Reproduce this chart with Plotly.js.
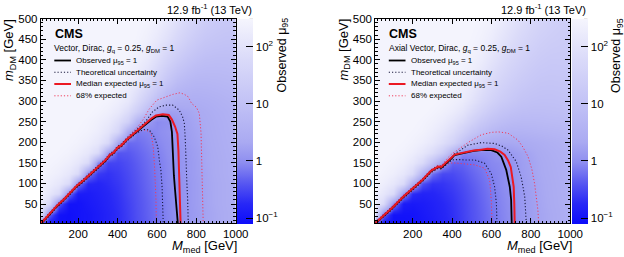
<!DOCTYPE html>
<html><head><meta charset="utf-8">
<script src="https://cdn.plot.ly/plotly-3.0.1.min.js"></script>
<style>html,body{margin:0;padding:0;background:#fff}#chart{width:624px;height:257px}</style>
</head><body><div id="chart"></div>
<script>
// ---------------- data ----------------
const Mmed = [10,50,100,150,200,250,300,350,400,450,500,550,600,650,700,750,800,850,900,950,1000];
const mDM  = [1,25,50,75,100,125,150,175,200,225,250,275,300,350,400,450,500];

// observed mu_95, vector mediator (rows = mDM, cols = Mmed)
const muVector = [
 [0.12,0.10,0.09,0.09,0.10,0.11,0.13,0.16,0.20,0.26,0.35,0.45,0.60,0.80,0.98,1.2,1.5,1.8,2.1,2.5,3.0],
 [60,0.5,0.10,0.09,0.10,0.11,0.13,0.16,0.20,0.27,0.36,0.47,0.62,0.82,1.0,1.22,1.5,1.8,2.1,2.5,3.0],
 [150,60,0.4,0.10,0.10,0.12,0.14,0.17,0.21,0.28,0.37,0.48,0.63,0.83,1.0,1.25,1.55,1.85,2.2,2.6,3.0],
 [220,130,60,0.6,0.13,0.13,0.15,0.18,0.22,0.30,0.38,0.50,0.65,0.85,1.02,1.25,1.55,1.85,2.2,2.6,3.0],
 [260,200,130,60,0.7,0.18,0.17,0.20,0.24,0.31,0.40,0.52,0.67,0.87,1.02,1.25,1.55,1.9,2.2,2.6,3.0],
 [290,250,200,130,60,0.8,0.25,0.22,0.26,0.33,0.42,0.54,0.70,0.88,1.05,1.3,1.6,1.9,2.3,2.7,3.1],
 [300,280,250,200,130,60,0.9,0.30,0.30,0.36,0.45,0.57,0.72,0.90,1.08,1.3,1.6,2.0,2.3,2.7,3.2],
 [300,300,280,250,200,130,60,1.5,0.40,0.42,0.50,0.62,0.77,0.95,1.12,1.35,1.65,2.0,2.4,2.8,3.3],
 [300,300,300,280,250,200,130,55,2,0.55,0.58,0.70,0.85,1.0,1.2,1.45,1.75,2.1,2.5,2.9,3.4],
 [300,300,300,300,280,250,190,110,45,2.5,0.75,0.80,0.92,1.1,1.3,1.55,1.85,2.2,2.6,3.0,3.5],
 [300,300,300,300,300,270,220,160,80,30,4,1.5,0.9,1.0,1.4,1.65,2.0,2.3,2.7,3.1,3.6],
 [300,300,300,300,300,300,270,220,150,70,25,8,2.5,1.6,1.7,1.9,2.2,2.5,2.9,3.3,3.8],
 [300,300,300,300,300,300,300,270,210,140,60,22,8,4,3,2.8,2.9,3.1,3.4,3.8,4.2],
 [300,300,300,300,300,300,300,300,280,220,150,80,35,15,8,6,5,5,5.2,5.5,6],
 [300,300,300,300,300,300,300,300,300,280,220,150,80,40,22,14,10,8.5,8,8,8.5],
 [300,300,300,300,300,300,300,300,300,300,280,220,150,90,50,30,20,15,13,12,12],
 [300,300,300,300,300,300,300,300,300,300,300,280,220,150,90,55,35,25,20,17,16]
];

// observed mu_95, axial-vector mediator
const muAxial = [
 [0.12,0.10,0.09,0.09,0.10,0.11,0.13,0.16,0.20,0.27,0.36,0.47,0.62,0.80,0.98,1.25,1.55,1.9,2.2,2.6,3.1],
 [60,0.5,0.10,0.10,0.10,0.12,0.14,0.17,0.21,0.28,0.37,0.48,0.63,0.82,1.0,1.27,1.57,1.9,2.2,2.6,3.1],
 [150,60,0.9,0.13,0.12,0.13,0.15,0.18,0.22,0.29,0.38,0.50,0.66,0.85,1.02,1.3,1.6,1.95,2.3,2.7,3.2],
 [220,130,60,1.2,0.20,0.16,0.17,0.20,0.24,0.31,0.40,0.53,0.69,0.88,1.05,1.33,1.65,2.0,2.35,2.75,3.2],
 [260,200,130,60,3,0.35,0.22,0.23,0.27,0.34,0.44,0.57,0.74,0.93,1.1,1.4,1.7,2.05,2.4,2.8,3.3],
 [290,250,200,130,60,4,0.6,0.32,0.33,0.40,0.50,0.63,0.80,0.92,1.1,1.5,1.8,2.15,2.5,2.9,3.4],
 [300,280,250,200,130,60,10,1.5,0.5,0.5,0.6,0.72,0.88,0.95,1.15,1.55,1.85,2.2,2.6,3.0,3.5],
 [300,300,280,250,200,130,70,25,4,0.9,0.85,0.9,0.95,1.2,1.4,1.7,2.0,2.4,2.8,3.2,3.7],
 [300,300,300,280,250,200,140,80,40,12,5,3,2.2,2.0,2.1,2.3,2.6,2.9,3.3,3.7,4.2],
 [300,300,300,300,280,250,190,130,75,35,16,9,6,4.5,4,4,4.2,4.5,4.8,5.1,5.5],
 [300,300,300,300,300,270,230,180,120,70,35,18,11,8,6.5,6,6,6.2,6.5,6.8,7.2],
 [300,300,300,300,300,300,270,230,180,120,65,35,20,13,10,8.5,8,8,8.3,8.6,9],
 [300,300,300,300,300,300,300,270,230,180,110,60,35,22,16,12,10.5,10,10,10.5,11],
 [300,300,300,300,300,300,300,300,280,240,180,110,65,40,27,20,16,14,13.5,14,14],
 [300,300,300,300,300,300,300,300,300,280,240,180,110,70,45,32,24,20,18,18,18],
 [300,300,300,300,300,300,300,300,300,300,280,240,180,115,75,50,36,28,24,22,21],
 [300,300,300,300,300,300,300,300,300,300,300,280,240,170,110,75,52,40,32,27,25]
];

// contours (Mmed, mDM) -- vector
const obsV_M = [10,30,60,90,130,190,230,275,300,320,340,360,380,400,420,445,470,495,520,545,570,595,625,654,668,676,679,682,686,692,698,706];
const obsV_m = [3,12,28,44,62,92,108,128,137,146,156,168,174,186,192,205,215,225,236,246,254,262,264,262,250,225,190,150,120,84,43,3];
const expV_M = [10,30,60,90,130,190,230,275,300,320,340,360,380,400,420,445,470,495,520,545,570,595,630,660,676,692,704,709,712,715,718,720];
const expV_m = [4,13,29,45,63,93,109,129,138,147,157,169,175,187,193,206,216,226,237,248,257,265,268,266,255,238,220,180,140,80,35,3];
const theoUpV_M = [10,30,60,90,130,190,230,275,300,320,340,360,380,400,420,445,470,495,520,545,578,612,645,680,713,730,739,744,747,752,756,759];
const theoUpV_m = [6,15,31,47,65,95,112,132,141,150,160,172,178,190,196,209,219,229,240,252,274,286,290,290,278,262,246,205,140,100,60,3];
const theoDnV_M = [10,30,60,90,130,190,230,275,300,320,340,360,380,400,420,445,470,495,531,561,586,604,612,620,626,629,632];
const theoDnV_m = [1,9,25,41,59,89,105,125,134,143,153,165,171,183,189,202,212,222,231,230,213,189,157,132,92,50,3];
const e68UpV_M = [10,30,60,90,130,190,230,275,300,320,340,360,380,400,420,445,470,500,530,560,599,640,680,717,740,759,776,800,815,824,827,830,833,835];
const e68UpV_m = [7,16,32,48,66,96,113,133,142,151,161,173,179,191,197,210,222,236,255,280,302,310,316,320,316,310,294,285,270,222,140,80,40,3];
const e68DnV_M = [10,30,60,90,130,190,230,275,300,320,340,360,380,400,420,445,470,493,520,544,570,581,588,592,595,597];
const e68DnV_m = [1,8,24,40,58,88,104,124,133,142,152,164,170,182,188,201,211,222,228,230,222,189,140,100,60,3];

// contours -- axial vector
const obsA_M = [10,50,100,150,200,250,294,315,330,345,365,380,400,413,440,464,510,548,599,630,650,675,693,700,703];
const obsA_m = [3,20,42,66,86,108,130,136,140,138,148,153,162,169,172,175,179,181,181,175,165,133,92,60,3];
const expA_M = [10,50,100,150,200,250,294,315,330,345,365,380,400,413,440,464,510,548,580,616,645,667,685,698,706,713,716,718];
const expA_m = [4,21,43,67,87,109,131,137,141,140,149,154,163,170,173,176,180,182,184,183,177,169,155,140,118,92,50,3];
const theoUpA_M = [10,50,100,150,200,250,294,315,330,345,365,380,400,413,440,481,548,616,655,684,726,751,769,775,777];
const theoUpA_m = [6,23,45,69,89,111,133,139,143,141,151,156,165,172,180,193,199,197,190,181,153,116,68,35,3];
const theoDnA_M = [10,50,100,150,200,250,294,315,330,345,365,380,400,430,464,515,565,599,616,625,628];
const theoDnA_m = [1,17,39,63,83,105,127,133,137,135,145,150,157,158,157,157,149,124,92,52,3];
const e68UpA_M = [10,50,100,150,200,250,294,315,330,345,365,380,400,440,484,548,600,636,684,735,760,786,805,819,830,836,840];
const e68UpA_m = [7,24,46,70,90,112,134,140,145,143,155,163,172,185,200,218,224,225,222,205,188,165,135,100,60,35,3];
const e68DnA_M = [10,50,100,150,200,250,294,315,330,345,365,380,400,430,470,515,565,591,599,603];
const e68DnA_m = [1,16,38,62,82,104,126,132,136,134,143,147,150,149,147,145,137,108,60,3];

const muMin = 0.08, muMax = 310;
const cbMajor = [0.1, 1, 10, 100];
const cbMajorText = ['10<sup>\u22121</sup>', '1', '10', '10<sup>2</sup>'];
const panelTitles = ['Vector, Dirac, <i>g</i><sub>q</sub> = 0.25, <i>g</i><sub>DM</sub> = 1',
                     'Axial Vector, Dirac, <i>g</i><sub>q</sub> = 0.25, <i>g</i><sub>DM</sub> = 1'];
const legendTexts = ['Observed \u03bc<sub>95</sub> = 1', 'Theoretical uncertainty',
                     'Median expected \u03bc<sub>95</sub> = 1', '68% expected'];

// ---------------- drawing ----------------
const W = 624, H = 257;
const PX = v => v / W, PY = v => (H - v) / H;
const FONT = 'Liberation Sans, Arial, Helvetica, sans-serif';
const SHIFT = 334.5;
const PLOT_TOP = 18.6, PLOT_BOT = 223.4, CB_LEFT = 237, CB_W = 16;

const colorscale = [
  [0.00, 'rgb(12,12,250)'],
  [0.10, 'rgb(40,40,246)'],
  [0.20, 'rgb(88,88,241)'],
  [0.30, 'rgb(142,142,240)'],
  [0.40, 'rgb(170,170,242)'],
  [0.60, 'rgb(195,195,246)'],
  [0.80, 'rgb(218,218,249)'],
  [1.00, 'rgb(245,245,253)']
];

function colorbar(xLeft) {
  return {x: PX(xLeft), xanchor: 'left', y: PY(PLOT_TOP), yanchor: 'top',
    len: PLOT_BOT - PLOT_TOP, lenmode: 'pixels', thickness: CB_W, thicknessmode: 'pixels',
    xpad: 0, ypad: 0, outlinewidth: 0, borderwidth: 0,
    tickmode: 'array', tickvals: cbMajor.map(v => Math.log10(v)), ticktext: cbMajorText,
    ticks: 'inside', ticklen: 7, tickcolor: '#000', tickwidth: 1,
    tickfont: {size: 11.5, color: '#000', family: FONT}, title: {text: ''}};
}

const logz = grid => grid.map(r => r.map(v => Math.log10(v)));

function heat(grid, xa, ya, cbx) {
  return {type: 'heatmap', x: Mmed, y: mDM, z: logz(grid), xaxis: xa, yaxis: ya,
    zmin: Math.log10(muMin), zmax: Math.log10(muMax), colorscale, zsmooth: 'best',
    hoverinfo: 'skip', colorbar: colorbar(cbx)};
}

const styles = {
  e68: {color: 'rgb(240,60,90)', width: 1, dash: '1.2px,2px'},
  theo: {color: 'rgb(25,25,60)', width: 1.1, dash: '1.2px,2px'},
  obs: {color: '#000', width: 1.8, dash: 'solid'},
  exp: {color: 'rgb(235,25,35)', width: 2, dash: 'solid'}
};
function line(M, m, st, xa, ya) {
  return {type: 'scatter', mode: 'lines', x: M, y: m, xaxis: xa, yaxis: ya,
    line: Object.assign({}, styles[st]), hoverinfo: 'skip', showlegend: false};
}

const traces = [
  heat(muVector, 'x', 'y', CB_LEFT),
  heat(muAxial, 'x2', 'y2', CB_LEFT + SHIFT),
  line(e68UpV_M, e68UpV_m, 'e68', 'x', 'y'), line(e68DnV_M, e68DnV_m, 'e68', 'x', 'y'),
  line(theoUpV_M, theoUpV_m, 'theo', 'x', 'y'), line(theoDnV_M, theoDnV_m, 'theo', 'x', 'y'),
  line(obsV_M, obsV_m, 'obs', 'x', 'y'), line(expV_M, expV_m, 'exp', 'x', 'y'),
  line(e68UpA_M, e68UpA_m, 'e68', 'x2', 'y2'), line(e68DnA_M, e68DnA_m, 'e68', 'x2', 'y2'),
  line(theoUpA_M, theoUpA_m, 'theo', 'x2', 'y2'), line(theoDnA_M, theoDnA_m, 'theo', 'x2', 'y2'),
  line(obsA_M, obsA_m, 'obs', 'x2', 'y2'), line(expA_M, expA_m, 'exp', 'x2', 'y2')
];

function xaxis(d0, d1, anchor) {
  return {domain: [PX(d0), PX(d1)], anchor, range: [10, 1000], tickmode: 'linear', tick0: 0, dtick: 200,
    ticks: 'inside', ticklen: 5, tickcolor: '#000', showline: true, linecolor: '#000', linewidth: 1,
    mirror: 'allticks', showgrid: false, zeroline: false, tickfont: {size: 11.5, color: '#000'},
    minor: {ticks: 'inside', tick0: 0, dtick: 20, ticklen: 2.5, tickcolor: '#000', showgrid: false}};
}
function yaxis(anchor) {
  return {domain: [PY(PLOT_BOT), PY(PLOT_TOP)], anchor, range: [3, 500], tickmode: 'linear', tick0: 0, dtick: 50,
    ticks: 'inside', ticklen: 5, tickcolor: '#000', showline: true, linecolor: '#000', linewidth: 1,
    mirror: 'allticks', showgrid: false, zeroline: false, tickfont: {size: 11.5, color: '#000'},
    minor: {ticks: 'inside', tick0: 0, dtick: 10, ticklen: 2.5, tickcolor: '#000', showgrid: false}};
}

const annotations = [], shapes = [];
function ann(text, x, y, o) {
  annotations.push(Object.assign({text, x: PX(x), y: PY(y), xref: 'paper', yref: 'paper',
    showarrow: false, font: {size: 11, color: '#000', family: FONT}, borderpad: 0}, o || {}));
}
// minor (log) ticks on the colour bars
const lmin = Math.log10(muMin), lmax = Math.log10(muMax);
const cbMinor = [];
for (let e = -2; e <= 2; e++) for (let k = 2; k <= 9; k++) {
  const v = k * Math.pow(10, e);
  if (v > muMin && v < muMax) cbMinor.push(Math.log10(v));
}

const legStyles = ['obs', 'theo', 'exp', 'e68'];
const legY = [60.5, 72.3, 84, 95.8];
[0, 1].forEach(p => {
  const dx = p * SHIFT;
  ann('12.9 fb<sup>-1</sup> (13 TeV)', 252.5 + dx, 9.5, {xanchor: 'right', yanchor: 'middle', font: {size: 11, color: '#000', family: FONT}});
  ann('<i>m</i><sub>DM</sub> [GeV]', 10 + dx, 18, {xanchor: 'center', yanchor: 'top', textangle: -90, font: {size: 13, color: '#000', family: FONT}});
  ann('<i>M</i><sub>med</sub> [GeV]', 238 + dx, 246.5, {xanchor: 'right', yanchor: 'middle', font: {size: 13, color: '#000', family: FONT}});
  ann('Observed \u03bc<sub>95</sub>', 282 + dx, 17, {xanchor: 'center', yanchor: 'top', textangle: -90, font: {size: 12.5, color: '#000', family: FONT}});
  ann('<b>CMS</b>', 53.5 + dx, 34, {xanchor: 'left', yanchor: 'middle', font: {size: 12.5, color: '#000', family: FONT}});
  ann(panelTitles[p], 53 + dx, 48.5, {xanchor: 'left', yanchor: 'middle', font: {size: 8.5, color: '#000', family: FONT}});
  legendTexts.forEach((t, i) => {
    ann(t, 75.3 + dx, legY[i], {xanchor: 'left', yanchor: 'middle', font: {size: 8, color: '#000', family: FONT}});
    const st = styles[legStyles[i]];
    shapes.push({type: 'line', xref: 'paper', yref: 'paper', x0: PX(54.3 + dx), x1: PX(71 + dx),
      y0: PY(legY[i]), y1: PY(legY[i]), line: {color: st.color, width: st.width, dash: st.dash}});
  });
  const cbRight = CB_LEFT + CB_W + dx;
  cbMinor.forEach(lv => {
    const yy = PLOT_BOT - (lv - lmin) / (lmax - lmin) * (PLOT_BOT - PLOT_TOP);
    shapes.push({type: 'line', xref: 'paper', yref: 'paper', x0: PX(cbRight - 3.5), x1: PX(cbRight),
      y0: PY(yy), y1: PY(yy), line: {color: '#000', width: 1}});
  });
});

const layout = {
  width: W, height: H, margin: {l: 0, r: 0, t: 0, b: 0, pad: 0},
  paper_bgcolor: '#fff', plot_bgcolor: '#fff', showlegend: false,
  font: {family: FONT, color: '#000', size: 11.5},
  xaxis: xaxis(40.8, 235.7, 'y'), yaxis: yaxis('x'),
  xaxis2: xaxis(40.8 + SHIFT, 235.7 + SHIFT, 'y2'), yaxis2: yaxis('x2'),
  annotations, shapes
};
Plotly.newPlot('chart', traces, layout, {displayModeBar: false, staticPlot: true});
</script></body></html>
